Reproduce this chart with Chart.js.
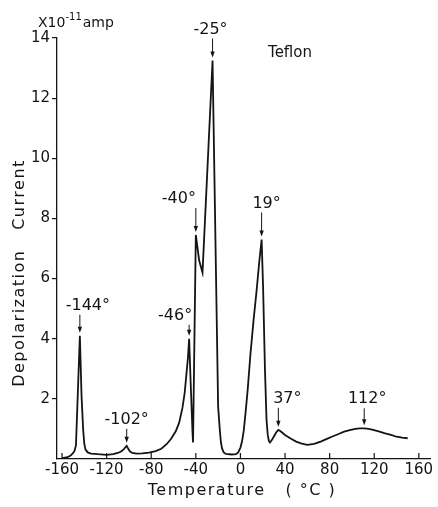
<!DOCTYPE html>
<html>
<head>
<meta charset="utf-8">
<script src="https://cdn.jsdelivr.net/npm/chart.js@4"></script>
<style>
  html, body { margin: 0; padding: 0; background: #fff; }
  canvas { display: block; }
</style>
</head>
<body>
<canvas id="teflon" width="438" height="507"></canvas>
<script>
// depolarization current of Teflon vs temperature (x10^-11 amp)
var temperature = [-160, -155, -152, -149, -147.5, -144, -142.5, -141, -140, -139, -137, -134, -128, -120, -114, -110, -107,
  -104.5, -102, -100.5, -99, -97, -93, -88, -82, -76, -71, -66, -62, -58, -55, -52, -50, -48.5, -47, -46, -44.5, -43, -42.5,
  -40, -37, -34, -25, -20, -18.5, -17.5, -16.5, -15, -13, -8, -4, -2, 0, 1.5, 3, 4.5, 6.5, 9, 12, 14.5, 17, 19, 20.3, 22,
  23.4, 24.5, 25.5, 26.5, 28, 30, 32, 34, 36, 40, 45, 50, 55, 60, 66, 72, 77, 82, 88, 93, 98, 103, 107, 111, 115, 119, 124,
  129, 135, 140, 145, 150];
var current = [0.03, 0.06, 0.12, 0.25, 0.45, 4.1, 2.1, 0.95, 0.5, 0.32, 0.22, 0.18, 0.16, 0.14, 0.16, 0.2, 0.25,
  0.33, 0.44, 0.33, 0.25, 0.2, 0.18, 0.19, 0.21, 0.26, 0.34, 0.5, 0.68, 0.92, 1.2, 1.7, 2.2, 2.8, 3.4, 4.0, 2.4, 0.9, 0.55,
  7.45, 6.6, 6.2, 13.25, 1.74, 0.97, 0.55, 0.35, 0.22, 0.17, 0.15, 0.16, 0.22, 0.38, 0.6, 0.95, 1.5, 2.3, 3.5, 4.7, 5.6, 6.6, 7.3, 5.74, 2.97,
  1.3, 0.8, 0.6, 0.55, 0.62, 0.75, 0.88, 0.97, 0.92, 0.8, 0.68, 0.58, 0.51, 0.47, 0.5, 0.58, 0.66, 0.74, 0.83, 0.91, 0.96, 1.0, 1.02, 1.02, 1.0, 0.97, 0.92,
  0.86, 0.8, 0.74, 0.71, 0.69];

var xTicks = [-160, -120, -80, -40, 0, 40, 80, 120, 160];
var yTicks = [2, 4, 6, 8, 10, 12, 14];

// peaks marked with arrows
var peakTemps = [-144, -102, -46, -40, -25, 19, 34, 111];
var peakLabels = ['-144°', '-102°', '-46°', '-40°', '-25°', '19°', '37°', '112°'];

// label placement relative to the peak: [dx, height above peak] in px
var labelOffsets = [[8, 30], [0, 26], [-14, 23], [-17, 36], [-2, 31], [5, 36], [9, 31], [3, 29]];

var FONT = '"DejaVu Sans", sans-serif';
var INK = '#141414';

var annotate = {
  id: 'annotate',
  afterDraw: function (chart) {
    var ctx = chart.ctx, x = chart.scales.x, y = chart.scales.y, area = chart.chartArea;
    ctx.save();
    ctx.strokeStyle = INK;
    ctx.fillStyle = INK;

    // x ticks point inward
    ctx.lineWidth = 1.2;
    xTicks.forEach(function (v) {
      var px = x.getPixelForValue(v);
      ctx.beginPath();
      ctx.moveTo(px, area.bottom);
      ctx.lineTo(px, area.bottom - 6);
      ctx.stroke();
    });

    // peak labels with arrows
    ctx.font = '16px ' + FONT;
    ctx.textAlign = 'center';
    ctx.textBaseline = 'middle';
    peakTemps.forEach(function (t, i) {
      var px = x.getPixelForValue(t);
      var py = y.getPixelForValue(current[temperature.indexOf(t)]);
      var o = labelOffsets[i];
      var ty = py - o[1];
      ctx.fillText(peakLabels[i], px + o[0], ty);
      var y0 = ty + 9, y1 = py - 3;
      ctx.lineWidth = 1;
      ctx.beginPath();
      ctx.moveTo(px, y0);
      ctx.lineTo(px, y1 - 4);
      ctx.stroke();
      ctx.beginPath();
      ctx.moveTo(px - 2.2, y1 - 6);
      ctx.lineTo(px + 2.2, y1 - 6);
      ctx.lineTo(px, y1);
      ctx.closePath();
      ctx.fill();
    });

    // sample name
    ctx.font = '15px ' + FONT;
    ctx.fillText('Teflon', 290, 53);

    // unit over the y axis
    ctx.textAlign = 'left';
    ctx.textBaseline = 'alphabetic';
    ctx.font = '14px ' + FONT;
    ctx.fillText('X10', 38, 27);
    var w = ctx.measureText('X10').width;
    ctx.font = '10px ' + FONT;
    ctx.fillText('-11', 38 + w, 20);
    var w2 = ctx.measureText('-11').width;
    ctx.font = '14px ' + FONT;
    ctx.fillText('amp', 38 + w + w2 + 1, 27);

    // axis titles
    ctx.textAlign = 'center';
    ctx.textBaseline = 'middle';
    ctx.font = '16px ' + FONT;
    ctx.letterSpacing = '1.5px';
    ctx.fillText('Temperature   ( °C )', 242, 491);
    ctx.translate(20, 273);
    ctx.rotate(-Math.PI / 2);
    ctx.fillText('Depolarization   Current', 0, 0);
    ctx.restore();
  }
};

var ctx = document.getElementById('teflon').getContext('2d');
var myChart = new Chart(ctx, {
  type: 'line',
  data: {
    datasets: [
      {
        data: temperature.map(function (t, i) { return { x: t, y: current[i] }; }),
        borderColor: INK,
        borderWidth: 1.8,
        pointRadius: 0,
        fill: false,
        tension: 0,
      },
    ],
  },
  options: {
    responsive: false,
    animation: false,
    layout: { padding: { top: 38, right: 8, left: 0, bottom: 0 } },
    plugins: { legend: { display: false }, tooltip: { enabled: false } },
    scales: {
      x: {
        type: 'linear',
        min: -164.5,
        max: 170,
        afterBuildTicks: function (scale) { scale.ticks = xTicks.map(function (v) { return { value: v }; }); },
        afterFit: function (scale) { scale.height = 48; },
        grid: { display: false, drawTicks: false },
        border: { display: true, color: INK, width: 1.3 },
        ticks: { color: INK, padding: 2, maxRotation: 0, autoSkip: false, font: { family: FONT, size: 15 } },
      },
      y: {
        min: 0,
        max: 14,
        afterBuildTicks: function (scale) { scale.ticks = yTicks.map(function (v) { return { value: v }; }); },
        afterFit: function (scale) { scale.width = 57; },
        grid: { drawOnChartArea: false, color: INK, tickLength: 5, lineWidth: 1.2 },
        border: { display: true, color: INK, width: 1.3 },
        ticks: { color: INK, padding: 2, font: { family: FONT, size: 15 } },
      },
    },
  },
  plugins: [annotate],
});
</script>
</body>
</html>
